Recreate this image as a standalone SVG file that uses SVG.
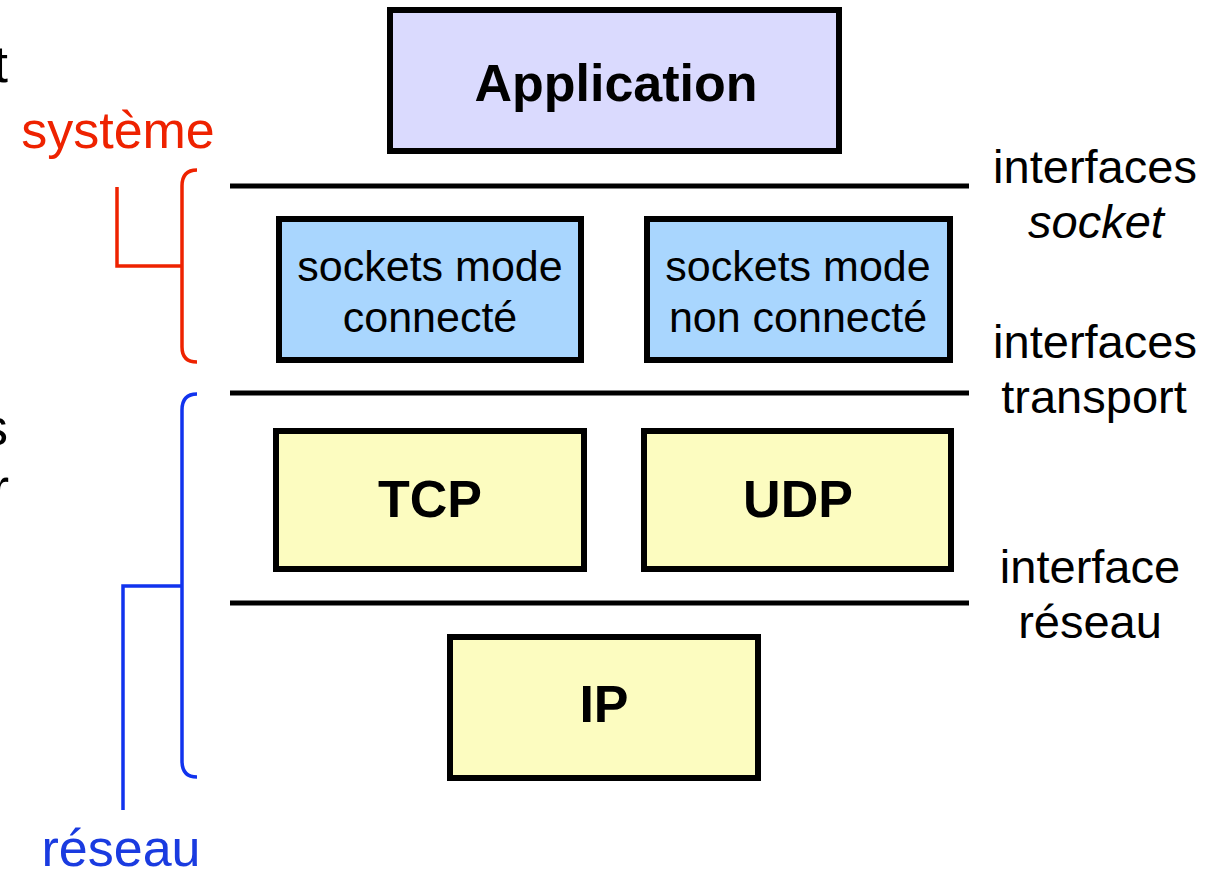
<svg xmlns="http://www.w3.org/2000/svg" width="1218" height="870" viewBox="0 0 1218 870">
<style>
.box{stroke:#000;stroke-width:6}
.app{fill:#dadafe}
.sock{fill:#a9d6fe}
.proto{fill:#fcfcc0}
.bold{font-family:"Liberation Sans",Arial,sans-serif;font-weight:bold;font-size:52px;fill:#000;text-anchor:middle}
.reg{font-family:"Liberation Sans",Arial,sans-serif;font-size:43px;fill:#000;text-anchor:middle}
.lab{font-family:"Liberation Sans",Arial,sans-serif;font-size:47px;fill:#000;text-anchor:middle}
.side{font-family:"Liberation Sans",Arial,sans-serif;font-size:52px}
.sep{stroke:#000;stroke-width:5}
.br{fill:none;stroke-width:3.5}
</style>
<rect width="1218" height="870" fill="#fff"/>
<g id="connectors">
<line class="sep" x1="230" y1="186" x2="969" y2="186"/>
<line class="sep" x1="230" y1="393" x2="969" y2="393"/>
<line class="sep" x1="230" y1="603" x2="969" y2="603"/>
<path class="br" stroke="#ee2200" d="M197,170 Q182,170 182,186 L182,347 Q182,362 197,362 M182,266 L117,266 L117,187"/>
<path class="br" stroke="#1133ee" d="M197,394 Q182,394 182,410 L182,761 Q182,777 197,777 M182,586 L123,586 L123,810"/>
</g>
<g id="application">
<rect class="box app" x="390" y="10" width="449" height="141"/>
<text class="bold" x="616" y="101">Application</text>
</g>
<g id="sockets-connecte">
<rect class="box sock" x="279" y="219" width="302" height="141"/>
<text class="reg" x="430" y="281">sockets mode</text>
<text class="reg" x="430" y="332">connecté</text>
</g>
<g id="sockets-non-connecte">
<rect class="box sock" x="647" y="219" width="303" height="141"/>
<text class="reg" x="798" y="281">sockets mode</text>
<text class="reg" x="798" y="332">non connecté</text>
</g>
<g id="tcp">
<rect class="box proto" x="276" y="431" width="308" height="138"/>
<text class="bold" x="430" y="517">TCP</text>
</g>
<g id="udp">
<rect class="box proto" x="644" y="431" width="307" height="138"/>
<text class="bold" x="798" y="517">UDP</text>
</g>
<g id="ip">
<rect class="box proto" x="450" y="637" width="308" height="141"/>
<text class="bold" x="604" y="722">IP</text>
</g>
<g id="labels">
<text class="lab" x="1095" y="183">interfaces</text>
<text class="lab" x="1096" y="238" font-style="italic">socket</text>
<text class="lab" x="1095" y="358">interfaces</text>
<text class="lab" x="1094" y="413">transport</text>
<text class="lab" x="1090" y="583">interface</text>
<text class="lab" x="1090" y="638">réseau</text>
<text class="side" x="118" y="148" fill="#ee2200" text-anchor="middle">système</text>
<text class="side" x="121" y="866" fill="#1a3be0" text-anchor="middle">réseau</text>
<text class="side" x="8" y="82" fill="#000" text-anchor="end">t</text>
<text class="side" x="8" y="445" fill="#000" text-anchor="end">s</text>
<text class="side" x="9" y="505" fill="#000" text-anchor="end">r</text>
</g>
</svg>
